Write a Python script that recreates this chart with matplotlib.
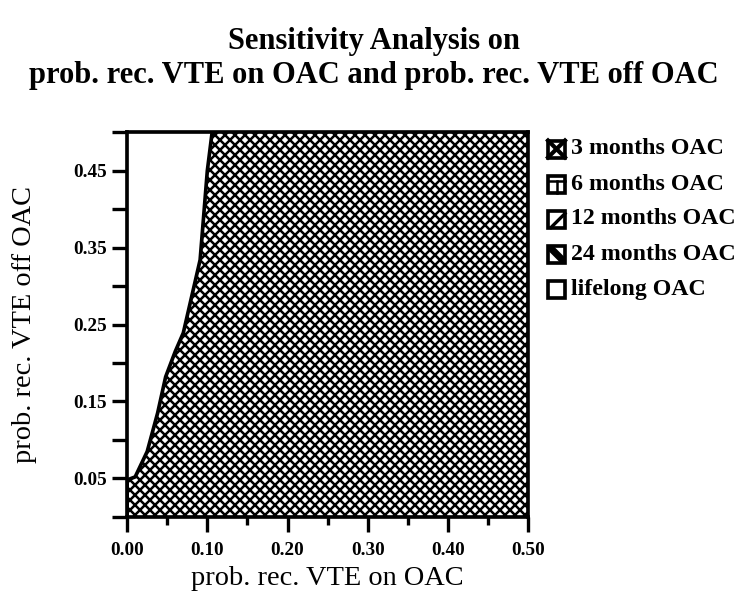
import matplotlib
matplotlib.use("Agg")
import matplotlib.pyplot as plt
from matplotlib.patches import Rectangle, Polygon
from matplotlib.ticker import MultipleLocator

# Grenze zwischen "3 months OAC" (rechts) und "lifelong OAC" (links)
grenze_x = [0.0, 0.0, 0.01, 0.025, 0.038, 0.048, 0.06, 0.07, 0.091, 0.10, 0.106]
grenze_y = [0.0, 0.048, 0.052, 0.085, 0.135, 0.182, 0.215, 0.239, 0.334, 0.45, 0.50]

legende_namen = ["3 months OAC", "6 months OAC", "12 months OAC", "24 months OAC", "lifelong OAC"]
legende_muster = ["x", "+", "/", "\\", ""]

y_ticks = [0.05, 0.15, 0.25, 0.35, 0.45]
x_ticks = [0.0, 0.1, 0.2, 0.3, 0.4, 0.5]

plt.rcParams["font.family"] = ["Liberation Serif", "DejaVu Serif"]
plt.rcParams["hatch.linewidth"] = 1.5

fig = plt.figure(figsize=(748 / 120, 606 / 120), dpi=120)
ax = fig.add_axes([0.170, 0.147, 0.536, 0.635])

# Bereich rechts der Grenze schraffieren
ax.fill_betweenx(grenze_y, grenze_x, 0.5, facecolor="white", edgecolor="black",
                 hatch="xxxx", linewidth=0)
ax.plot(grenze_x, grenze_y, color="black", lw=2.2)

ax.set_xlim(0, 0.5)
ax.set_ylim(0, 0.5)

ax.set_xticks(x_ticks)
ax.set_xticklabels([f"{v:.2f}" for v in x_ticks], fontweight="bold", fontsize=11.5)
ax.xaxis.set_minor_locator(MultipleLocator(0.05))
ax.set_yticks(y_ticks)
ax.set_yticklabels([f"{v:.2f}" for v in y_ticks], fontweight="bold", fontsize=11.5)
ax.yaxis.set_minor_locator(MultipleLocator(0.05))

ax.tick_params(axis="x", which="major", direction="out", length=9, width=2, pad=6)
ax.tick_params(axis="x", which="minor", direction="out", length=5, width=2)
ax.tick_params(axis="y", which="both", direction="out", length=9, width=2, pad=3)

for s in ax.spines.values():
    s.set_linewidth(2.2)

ax.set_xlabel("prob. rec. VTE on OAC", fontsize=17, labelpad=4)
ax.set_ylabel("prob. rec. VTE off OAC", fontsize=17, labelpad=22)

fig.text(0.5, 0.932, "Sensitivity Analysis on", ha="center", va="center",
         fontsize=18.3, fontweight="bold")
fig.text(0.5, 0.875, "prob. rec. VTE on OAC and prob. rec. VTE off OAC", ha="center",
         va="center", fontsize=18.3, fontweight="bold")

# Legende von Hand zeichnen (Achse in Pixel-Einheiten)
lax = fig.add_axes([540 / 748, 1 - 310 / 606, 208 / 748, 180 / 606])
lax.set_xlim(0, 208)
lax.set_ylim(180, 0)
lax.axis("off")
s = 17
for i, (name, muster) in enumerate(zip(legende_namen, legende_muster)):
    cy = 19 + i * 35
    x0, y0 = 8, cy - s / 2
    if muster == "x":
        lax.plot([x0, x0 + s], [y0, y0 + s], color="black", lw=2.5)
        lax.plot([x0, x0 + s], [y0 + s, y0], color="black", lw=2.5)
    elif muster == "+":
        lax.plot([x0, x0 + s], [y0 + s * 0.35, y0 + s * 0.35], color="black", lw=1.5)
        lax.plot([x0 + s / 2, x0 + s / 2], [y0 + s * 0.35, y0 + s], color="black", lw=1.5)
    elif muster == "/":
        lax.plot([x0 + 3, x0 + s], [y0 + s, y0 + 3], color="black", lw=2)
    elif muster == "\\":
        lax.add_patch(Polygon([[x0, y0], [x0 + 5, y0], [x0 + s, y0 + s - 5],
                               [x0 + s, y0 + s], [x0 + s - 5, y0 + s], [x0, y0 + 5]],
                              closed=True, facecolor="black", edgecolor="none"))
    lax.add_patch(Rectangle((x0, y0), s, s, facecolor="none", edgecolor="black", lw=2.2))
    lax.text(x0 + s + 6, cy, name, ha="left", va="center", fontsize=14.3, fontweight="bold")

fig.savefig("out.png", dpi=120)
